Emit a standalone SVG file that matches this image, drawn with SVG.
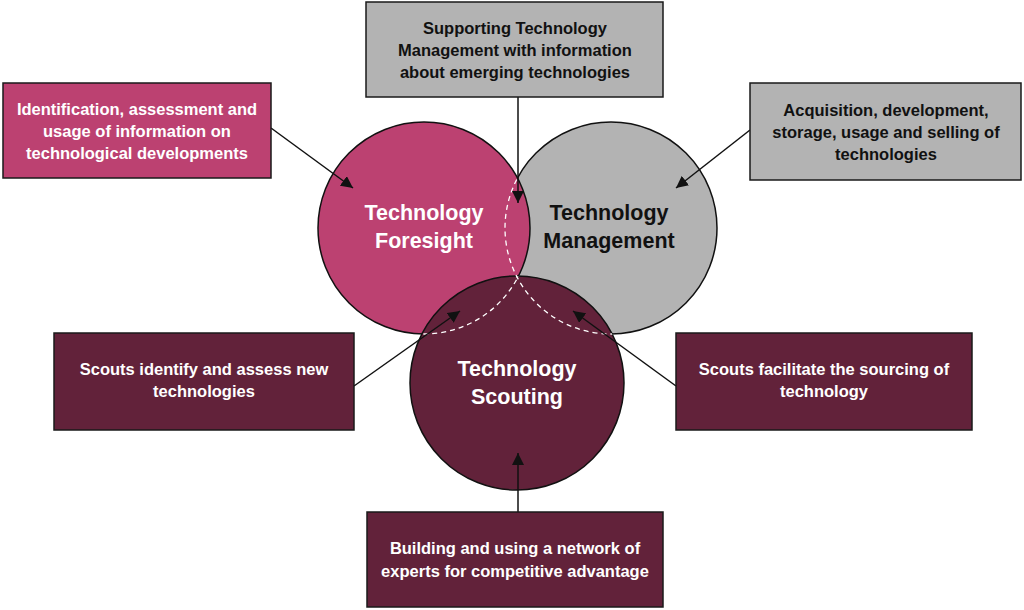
<svg xmlns="http://www.w3.org/2000/svg" width="1024" height="610" viewBox="0 0 1024 610">
<style>
.box{stroke:#1a1a1a;stroke-width:1.5}
.pink{fill:#BC4171}
.gray{fill:#B3B3B3}
.dark{fill:#62223A}
.circ{stroke:#111;stroke-width:1.5}
.btxt{font-family:"Liberation Sans",Arial,sans-serif;font-weight:bold;font-size:16.5px;text-anchor:middle}
.ctxt{font-family:"Liberation Sans",Arial,sans-serif;font-weight:bold;font-size:21.5px;text-anchor:middle}
.w{fill:#ffffff}
.k{fill:#111111}
.dash{fill:none;stroke:#ffffff;stroke-width:1.3;stroke-dasharray:5 4}
.conn{stroke:#111;stroke-width:1.5;fill:none;marker-end:url(#ah)}
</style>
<defs>
<marker id="ah" viewBox="0 0 10 10" refX="10" refY="5" markerWidth="12" markerHeight="12" markerUnits="userSpaceOnUse" orient="auto">
<path d="M0,0 L10,5 L0,10 z" fill="#111"/>
</marker>
<clipPath id="cpF"><circle cx="424" cy="228" r="106"/></clipPath>
<clipPath id="cpS"><circle cx="517" cy="383" r="107"/></clipPath>
</defs>

<g id="circle-management">
<circle class="circ gray" cx="611" cy="228" r="106"/>
</g>
<g id="circle-foresight">
<circle class="circ pink" cx="424" cy="228" r="106"/>
</g>
<g id="circle-scouting">
<circle class="circ dark" cx="517" cy="383" r="107"/>
</g>
<g id="overlap-outlines">
<circle class="dash" cx="611" cy="228" r="106" clip-path="url(#cpF)"/>
<circle class="dash" cx="611" cy="228" r="106" clip-path="url(#cpS)"/>
<circle class="dash" cx="424" cy="228" r="106" clip-path="url(#cpS)"/>
</g>
<g id="labels-circles">
<text class="ctxt w" x="424" y="220">Technology</text>
<text class="ctxt w" x="424" y="248">Foresight</text>
<text class="ctxt k" x="609" y="220">Technology</text>
<text class="ctxt k" x="609" y="248">Management</text>
<text class="ctxt w" x="517" y="376">Technology</text>
<text class="ctxt w" x="517" y="404">Scouting</text>
</g>

<g id="connectors">
<line class="conn" x1="271" y1="128" x2="353" y2="188"/>
<line class="conn" x1="518" y1="97" x2="518" y2="203"/>
<line class="conn" x1="750" y1="130" x2="676" y2="188"/>
<line class="conn" x1="354" y1="386" x2="460" y2="311"/>
<line class="conn" x1="676" y1="386" x2="573" y2="311"/>
<line class="conn" x1="518" y1="512" x2="518" y2="453"/>
</g>

<g id="box-foresight">
<rect class="box pink" x="3" y="83" width="268" height="95"/>
<text class="btxt w" x="137" y="115">Identification, assessment and</text>
<text class="btxt w" x="137" y="137">usage of information on</text>
<text class="btxt w" x="137" y="159">technological developments</text>
</g>
<g id="box-supporting">
<rect class="box gray" x="366" y="2" width="297" height="95"/>
<text class="btxt k" x="515" y="34">Supporting Technology</text>
<text class="btxt k" x="515" y="56">Management with information</text>
<text class="btxt k" x="515" y="78">about emerging technologies</text>
</g>
<g id="box-management">
<rect class="box gray" x="750" y="83" width="271" height="97"/>
<text class="btxt k" x="886" y="116">Acquisition, development,</text>
<text class="btxt k" x="886" y="138">storage, usage and selling of</text>
<text class="btxt k" x="886" y="160">technologies</text>
</g>
<g id="box-identify">
<rect class="box dark" x="54" y="333" width="300" height="97"/>
<text class="btxt w" x="204" y="375">Scouts identify and assess new</text>
<text class="btxt w" x="204" y="397">technologies</text>
</g>
<g id="box-sourcing">
<rect class="box dark" x="676" y="333" width="296" height="97"/>
<text class="btxt w" x="824" y="375">Scouts facilitate the sourcing of</text>
<text class="btxt w" x="824" y="397">technology</text>
</g>
<g id="box-network">
<rect class="box dark" x="367" y="512" width="296" height="95"/>
<text class="btxt w" x="515" y="554">Building and using a network of</text>
<text class="btxt w" x="515" y="577">experts for competitive advantage</text>
</g>
</svg>
